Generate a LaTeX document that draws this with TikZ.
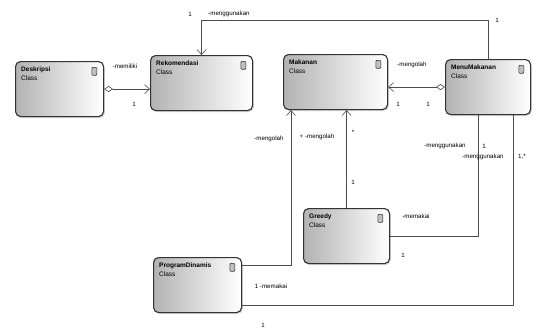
\documentclass[tikz,border=0pt]{standalone}
\usepackage{fontspec}
\setmainfont{Liberation Sans}
\usepackage{tikz}
\usetikzlibrary{positioning,arrows.meta,calc,shadows}

\begin{document}
\begin{tikzpicture}[x=1pt, y=-1pt, font=\fontsize{6.2}{7}\selectfont,
  kelas/.style={draw=black!80, line width=1.1pt, rounded corners=5pt, anchor=north west,
    left color=gray!60, right color=white, minimum height=55pt,
    drop shadow={shadow xshift=1.2pt, shadow yshift=-1.5pt, opacity=0.35}},
  judul/.style={anchor=north west, align=left, inner sep=0pt, font=\fontsize{6.5}{9}\selectfont},
  ikon/.style={draw=black!80, fill=gray!50, line width=0.6pt, rounded corners=1pt,
    minimum width=5pt, minimum height=8pt, inner sep=0pt, anchor=north east},
  garis/.style={draw=black!70, line width=0.6pt},
  panah/.style={garis, -{Straight Barb[length=5pt,width=9pt]}},
  agregasi/.style={garis, {Diamond[open,length=9pt,width=6pt]}-{Straight Barb[length=5pt,width=9pt]}},
  ket/.style={inner sep=1pt}
]
\useasboundingbox (0,0) rectangle (536,333);
% kelas
\node[kelas, minimum width=88pt] (desk) at (15,61) {};
\node[kelas, minimum width=102pt] (rek) at (150,55) {};
\node[kelas, minimum width=104pt] (mak) at (283,54) {};
\node[kelas, minimum width=85pt] (menu) at (445,59) {};
\node[kelas, minimum width=86pt] (greedy) at (303,208) {};
\node[kelas, minimum width=88pt] (pd) at (153,257) {};
% nama kelas
\node[judul] (deskT) at ([shift={(6pt,-6pt)}]desk.north west) {\textbf{Deskripsi}\\Class};
\node[judul] (rekT) at ([shift={(6pt,-6pt)}]rek.north west) {\textbf{Rekomendasi}\\Class};
\node[judul] (makT) at ([shift={(6pt,-6pt)}]mak.north west) {\textbf{Makanan}\\Class};
\node[judul] (menuT) at ([shift={(6pt,-6pt)}]menu.north west) {\textbf{MenuMakanan}\\Class};
\node[judul] (greedyT) at ([shift={(6pt,-6pt)}]greedy.north west) {\textbf{Greedy}\\Class};
\node[judul] (pdT) at ([shift={(6pt,-6pt)}]pd.north west) {\textbf{ProgramDinamis}\\Class};
% ikon
\foreach \k in {desk,rek,mak,menu,greedy,pd}
  \node[ikon] (\k I) at ([shift={(-7pt,-6pt)}]\k.north east) {};
% relasi
\coordinate (atas) at (0,20);
\draw[agregasi] (desk.east) -- (desk.east -| rek.west);
\draw[agregasi] (menu.west) -- (menu.west -| mak.east);
\draw[panah] (menu.north) -- (menu.north |- atas) -| (rek.north);
\draw[panah] (greedy.north) -- (greedy.north |- mak.south);
\draw[panah] ([yshift=20pt]pd.east) -| ([xshift=8pt]mak.south west);
\draw[garis] (greedy.east) -| ([xshift=-10pt]menu.south);
\draw[garis] ([yshift=-20pt]pd.east) -| ([xshift=25pt]menu.south);
% keterangan
\node[ket] (l1) at (190,14) {1};
\node[ket] (l2) at (229,14) {-menggunakan};
\node[ket] (l3) at (497,20) {1};
\node[ket] (l4) at (125,66) {-memiliki};
\node[ket] (l5) at (134,104) {1};
\node[ket] (l6) at (412,65) {-mengolah};
\node[ket] (l7) at (398,104) {1};
\node[ket] (l8) at (428,104) {1};
\node[ket] (l9) at (269,139) {-mengolah};
\node[ket] (l10) at (317,137) {+ -mengolah};
\node[ket] (l11) at (353,132) {*};
\node[ket] (l12) at (353,182) {1};
\node[ket] (l13) at (445,146) {-menggunakan};
\node[ket] (l14) at (484,146) {1};
\node[ket] (l15) at (483,157) {-menggunakan};
\node[ket] (l16) at (522,157) {1,*};
\node[ket] (l17) at (416,216) {-memakai};
\node[ket] (l18) at (403,255) {1};
\node[ket] (l19) at (271,286) {1 -memakai};
\node[ket] (l20) at (263,325) {1};
\end{tikzpicture}
\end{document}
